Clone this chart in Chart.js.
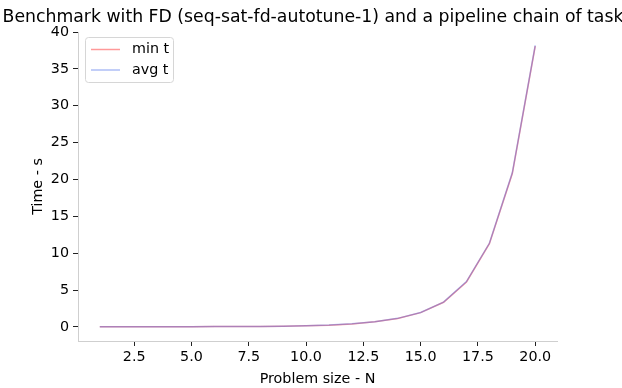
<!DOCTYPE html>
<html>
<head>
<meta charset="utf-8">
<script src="https://cdn.jsdelivr.net/npm/chart.js@4/dist/chart.umd.min.js"></script>
<style>
  html, body { margin: 0; padding: 0; background: #fff; }
  #wrap { width: 622px; height: 388px; }
</style>
</head>
<body>
<div id="wrap"><canvas id="benchChart" width="622" height="388"></canvas></div>
<script>
// Problem sizes and timings (seconds)
const sizes = [1, 2, 3, 4, 5, 6, 7, 8, 9, 10, 11, 12, 13, 14, 15, 16, 17, 18, 19, 20];
const minT = [0.02, 0.02, 0.03, 0.03, 0.04, 0.05, 0.06, 0.08, 0.11, 0.16, 0.25, 0.42, 0.70, 1.15, 1.95, 3.35, 6.10, 11.3, 20.8, 38.1];
const avgT = [0.02, 0.02, 0.03, 0.03, 0.04, 0.05, 0.06, 0.08, 0.11, 0.16, 0.26, 0.43, 0.71, 1.17, 1.97, 3.38, 6.15, 11.35, 20.9, 38.2];
const xTicks = [2.5, 5.0, 7.5, 10.0, 12.5, 15.0, 17.5, 20.0];
const yTicks = [0, 5, 10, 15, 20, 25, 30, 35, 40];
const titleText = 'Benchmark with FD (seq-sat-fd-autotune-1) and a pipeline chain of tasks';

const FONT = 'DejaVu Sans';
const minColor = 'rgba(255, 0, 0, 0.4)';
const avgColor = 'rgba(50, 90, 230, 0.4)';

const toPoints = ys => sizes.map((x, i) => ({ x: x, y: ys[i] }));

// title centred over the axes + legend box inside the plot, matplotlib style
const overlay = {
    id: 'overlay',
    afterDraw(chart) {
        const ctx = chart.ctx;
        const area = chart.chartArea;
        ctx.save();
        ctx.fillStyle = '#000';
        ctx.font = '17.3px "' + FONT + '"';
        ctx.textAlign = 'center';
        ctx.textBaseline = 'alphabetic';
        ctx.fillText(titleText, (area.left + area.right) / 2, 22);

        // legend
        const bx = 85.5, by = 37.5, bw = 88, bh = 45;
        ctx.beginPath();
        ctx.roundRect(bx, by, bw, bh, 3);
        ctx.fillStyle = 'rgba(255,255,255,0.8)';
        ctx.fill();
        ctx.strokeStyle = '#d6d6d6';
        ctx.lineWidth = 1;
        ctx.stroke();
        ctx.font = '14.3px "' + FONT + '"';
        ctx.textAlign = 'left';
        ctx.textBaseline = 'middle';
        chart.data.datasets.forEach((ds, i) => {
            const y = 49.5 + i * 20.5;
            ctx.beginPath();
            ctx.moveTo(91, y);
            ctx.lineTo(120, y);
            ctx.strokeStyle = ds.borderColor;
            ctx.lineWidth = 1.5;
            ctx.stroke();
            ctx.fillStyle = '#000';
            ctx.fillText(ds.label, 132, y);
        });
        ctx.restore();
    }
};

const benchCtx = document.getElementById('benchChart').getContext('2d');
const benchChart = new Chart(benchCtx, {
    type: 'line',
    data: {
        datasets: [{
            label: 'min t',
            data: toPoints(minT),
            borderColor: minColor,
            backgroundColor: minColor,
            borderWidth: 1.5,
            pointRadius: 0,
            tension: 0,
            order: 1
        }, {
            // drawn on top of min t, like the matplotlib original
            label: 'avg t',
            data: toPoints(avgT),
            borderColor: avgColor,
            backgroundColor: avgColor,
            borderWidth: 1.5,
            pointRadius: 0,
            tension: 0,
            order: 0
        }]
    },
    options: {
        responsive: false,
        animation: false,
        layout: {
            padding: { left: 0, right: 65, top: 32, bottom: 0 }
        },
        plugins: {
            legend: { display: false },
            title: { display: false },
            tooltip: { enabled: false }
        },
        scales: {
            x: {
                type: 'linear',
                min: 0.05,
                max: 20.95,
                afterBuildTicks: axis => { axis.ticks = xTicks.map(v => ({ value: v })); },
                afterFit: axis => { axis.height = 47; },
                border: { display: true, color: '#cfcfcf', width: 1 },
                grid: { drawOnChartArea: false, drawTicks: true, tickLength: 5, tickColor: '#222', tickWidth: 1 },
                ticks: {
                    color: '#000',
                    padding: 3,
                    maxRotation: 0,
                    font: { family: FONT, size: 14.3 },
                    callback: v => v.toFixed(1)
                },
                title: {
                    display: true,
                    text: 'Problem size - N',
                    color: '#000',
                    font: { family: FONT, size: 14.3 },
                    padding: { top: 2.4, bottom: 0 }
                }
            },
            y: {
                type: 'linear',
                min: -1.9,
                max: 40,
                afterBuildTicks: axis => { axis.ticks = yTicks.map(v => ({ value: v })); },
                afterFit: axis => { axis.width = 78; },
                border: { display: true, color: '#cfcfcf', width: 1 },
                grid: { drawOnChartArea: false, drawTicks: true, tickLength: 5, tickColor: '#222', tickWidth: 1 },
                ticks: {
                    color: '#000',
                    padding: 4,
                    font: { family: FONT, size: 14.3 },
                    callback: v => String(v)
                },
                title: {
                    display: true,
                    text: 'Time - s',
                    color: '#000',
                    font: { family: FONT, size: 14.3 },
                    padding: { top: 29.4, bottom: 0 }
                }
            }
        }
    },
    plugins: [overlay]
});
</script>
</body>
</html>
